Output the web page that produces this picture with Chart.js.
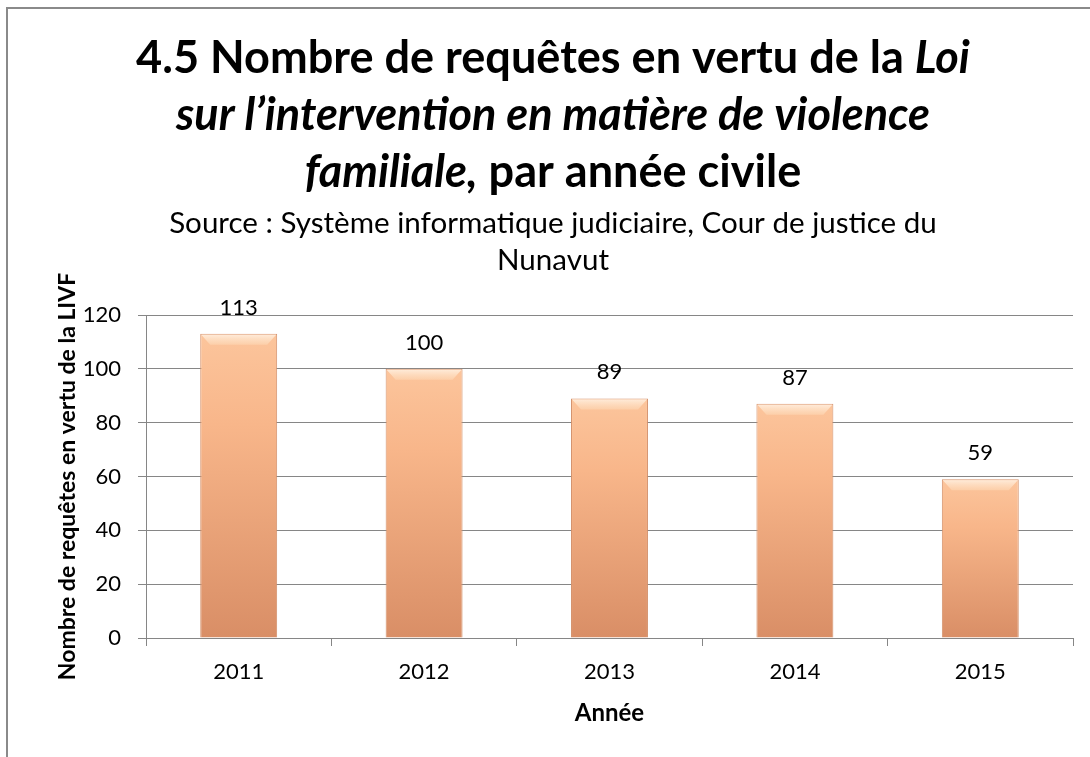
<!DOCTYPE html>
<html>
<head>
<meta charset="utf-8">
<script src="https://cdn.jsdelivr.net/npm/chart.js@4"></script>
<style>
  html, body { margin: 0; padding: 0; background: #fff; }
  #wrap { width: 1090px; height: 757px; }
</style>
</head>
<body>
<div id="wrap"><canvas id="chart" width="1090" height="757"></canvas></div>
<script>
// données du graphique
const annees = ['2011', '2012', '2013', '2014', '2015'];
const requetes = [113, 100, 89, 87, 59];
const yTicks = [0, 20, 40, 60, 80, 100, 120];

// titre (gras, avec certaines parties en italique)
const titreLignes = [
  [{ t: '4.5 Nombre de requêtes en vertu de la ', i: false }, { t: 'Loi', i: true }],
  [{ t: 'sur l’intervention en matière de violence', i: true }],
  [{ t: 'familiale,', i: true }, { t: ' par année civile', i: false }]
];
const sourceLignes = ['Source : Système informatique judiciaire, Cour de justice du', 'Nunavut'];
const titreAxeY = 'Nombre de requêtes en vertu de la LIVF';
const titreAxeX = 'Année';

const FONT = 'Lato, "Open Sans", sans-serif';
const GRIS = '#868686';

function fontTitre(italique, taille) {
  return (italique ? 'italic ' : '') + 'bold ' + taille + 'px ' + FONT;
}

function largeurLigne(ctx, ligne, taille) {
  let w = 0;
  ligne.forEach(seg => {
    ctx.font = fontTitre(seg.i, taille);
    w += ctx.measureText(seg.t).width;
  });
  return w;
}

// fond, cadre et titre
const cadrePlugin = {
  id: 'cadre',
  beforeDraw(chart) {
    const ctx = chart.ctx;
    ctx.save();
    ctx.fillStyle = '#fff';
    ctx.fillRect(0, 0, chart.width, chart.height);
    ctx.strokeStyle = '#8a8a8a';
    ctx.lineWidth = 2;
    ctx.strokeRect(7, 8, 2000, 2000);

    // taille ajustée pour que la 1re ligne fasse ~834 px
    const base = 48;
    const taille = base * 834 / largeurLigne(ctx, titreLignes[0], base);
    const centre = 553;
    const baselines = [73, 130, 187];
    ctx.fillStyle = '#000';
    ctx.textBaseline = 'alphabetic';
    ctx.textAlign = 'left';
    titreLignes.forEach((ligne, k) => {
      let x = centre - largeurLigne(ctx, ligne, taille) / 2;
      ligne.forEach(seg => {
        ctx.font = fontTitre(seg.i, taille);
        ctx.fillText(seg.t, x, baselines[k]);
        x += ctx.measureText(seg.t).width;
      });
    });

    ctx.font = '26px ' + FONT;
    const tSrc = 26 * 768 / ctx.measureText(sourceLignes[0]).width;
    ctx.font = tSrc + 'px ' + FONT;
    ctx.textAlign = 'center';
    ctx.fillText(sourceLignes[0], centre, 233);
    ctx.fillText(sourceLignes[1], centre, 270);
    ctx.restore();
  }
};

// biseau en haut des barres + étiquettes de valeur
const barresPlugin = {
  id: 'barres',
  afterDatasetsDraw(chart) {
    const ctx = chart.ctx;
    const meta = chart.getDatasetMeta(0);
    ctx.save();
    meta.data.forEach((bar, i) => {
      const w = bar.width, x0 = bar.x - w / 2, x1 = bar.x + w / 2, y = bar.y;
      const g = ctx.createLinearGradient(0, y, 0, y + 11);
      g.addColorStop(0, 'rgba(255,240,225,0.95)');
      g.addColorStop(1, 'rgba(253,215,180,0.6)');
      ctx.fillStyle = g;
      ctx.beginPath();
      ctx.moveTo(x0 + 1, y + 1);
      ctx.lineTo(x1 - 1, y + 1);
      ctx.lineTo(x1 - 10, y + 11);
      ctx.lineTo(x0 + 10, y + 11);
      ctx.closePath();
      ctx.fill();

      ctx.fillStyle = '#000';
      ctx.font = '22px ' + FONT;
      ctx.textAlign = 'center';
      ctx.textBaseline = 'alphabetic';
      ctx.fillText(String(requetes[i]), bar.x, y - 19);
    });
    ctx.restore();
  }
};

function degradeBarre(c) {
  const { ctx, chartArea, scales } = c.chart;
  if (!chartArea || c.type !== 'data') return '#f2ad82';
  const haut = scales.y.getPixelForValue(c.raw);
  const bas = scales.y.getPixelForValue(0);
  const g = ctx.createLinearGradient(0, haut, 0, bas);
  g.addColorStop(0, '#fcc59c');
  g.addColorStop(0.3, '#f8b68a');
  g.addColorStop(1, '#d98e66');
  return g;
}

const ctx = document.getElementById('chart').getContext('2d');
new Chart(ctx, {
  type: 'bar',
  data: {
    labels: annees,
    datasets: [{
      data: requetes,
      backgroundColor: degradeBarre,
      borderColor: '#d4916b',
      borderWidth: 1,
      barPercentage: 0.415,
      categoryPercentage: 1
    }]
  },
  options: {
    responsive: false,
    animation: false,
    layout: { padding: { top: 315, left: 52, right: 17, bottom: 27 } },
    plugins: {
      legend: { display: false },
      tooltip: { enabled: false }
    },
    scales: {
      x: {
        grid: { offset: true, drawOnChartArea: false, drawTicks: true, tickLength: 8, color: GRIS },
        border: { color: GRIS },
        ticks: { color: '#000', font: { family: FONT, size: 22 }, padding: 13 },
        title: {
          display: true, text: titreAxeX, color: '#000',
          font: { family: FONT, size: 24, weight: 'bold' },
          padding: { top: 0, bottom: 2 }
        },
        afterFit: s => { s.height = 92; }
      },
      y: {
        min: 0, max: 120,
        afterBuildTicks: s => { s.ticks = yTicks.map(v => ({ value: v })); },
        grid: { color: GRIS, tickLength: 8 },
        border: { color: GRIS },
        ticks: { color: '#000', font: { family: FONT, size: 22 }, padding: 17 },
        title: {
          display: true, text: titreAxeY, color: '#000',
          font: { family: FONT, size: 23, weight: 'bold' },
          padding: { top: 2, bottom: 0 }
        },
        afterFit: s => { s.width = 94; }
      }
    }
  },
  plugins: [cadrePlugin, barresPlugin]
});
</script>
</body>
</html>
